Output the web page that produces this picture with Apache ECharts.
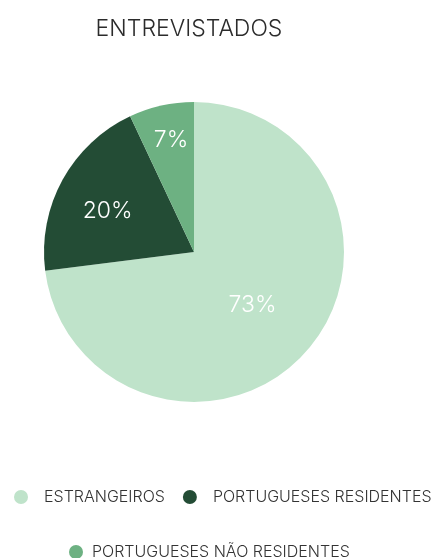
<!DOCTYPE html>
<html>
<head>
<meta charset="utf-8">
<script src="https://cdn.jsdelivr.net/npm/echarts@6/dist/echarts.min.js"></script>
<style>
  html, body { margin: 0; padding: 0; background: #fff; }
  #chart { width: 433px; height: 558px; }
</style>
</head>
<body>
<div id="chart"></div>
<script>
// data
const categories = ['ESTRANGEIROS', 'PORTUGUESES RESIDENTES', 'PORTUGUESES NÃO RESIDENTES']
const values = [73, 20, 7]
const colors = ['#bfe3ca', '#234c35', '#6db182']
// small nudges for the inside labels
const labelOffsets = [[0, 1], [-18, -3], [-6, -36]]

const chart = echarts.init(document.getElementById('chart'))
const font = 'Inter, Lato, sans-serif'

const option = {
  title: {
    text: 'ENTREVISTADOS',
    left: 184,
    textAlign: 'center',
    top: 13,
    textStyle: { color: '#2b2b2b', fontSize: 23, fontWeight: 300, fontFamily: font }
  },
  color: colors,
  legend: [
    {
      data: categories.slice(0, 2),
      left: 9,
      width: 424,
      top: 484,
      icon: 'circle',
      itemWidth: 14,
      itemHeight: 14,
      itemGap: 18,
      textStyle: { color: '#333', fontSize: 16, fontWeight: 300, fontFamily: font, padding: [0, 0, 0, 11] }
    },
    {
      data: categories.slice(2),
      left: 64,
      width: 360,
      top: 539,
      icon: 'circle',
      itemWidth: 14,
      itemHeight: 14,
      textStyle: { color: '#333', fontSize: 16, fontWeight: 300, fontFamily: font, padding: [0, 0, 0, 4] }
    }
  ],
  series: [
    {
      type: 'pie',
      center: [194, 252],
      radius: 150,
      startAngle: 90,
      clockwise: true,
      silent: true,
      label: {
        show: true,
        position: 'inside',
        formatter: '{c}%',
        color: '#fff',
        fontSize: 23,
        fontWeight: 300,
        fontFamily: font
      },
      labelLine: { show: false },
      data: categories.map((name, i) => ({
        name: name,
        value: values[i],
        label: { offset: labelOffsets[i] }
      }))
    }
  ]
}
chart.setOption(option)
</script>
</body>
</html>
